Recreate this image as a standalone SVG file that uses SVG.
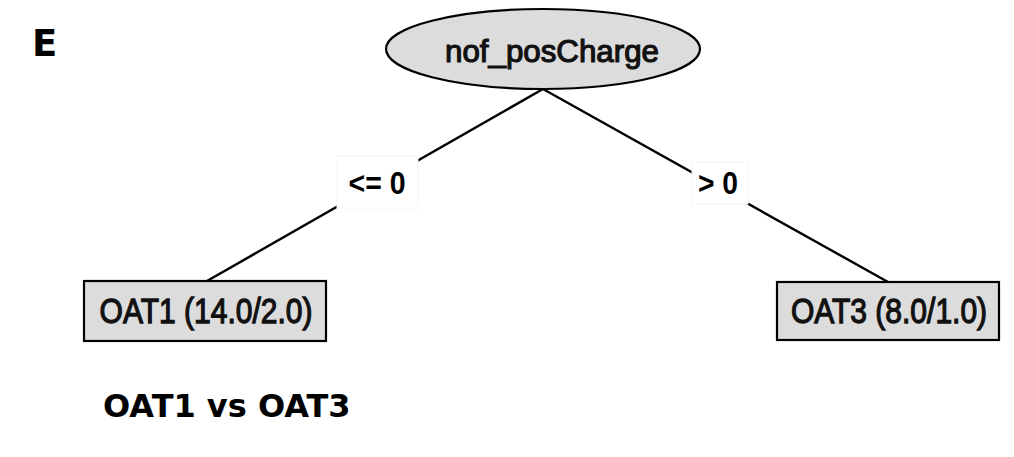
<svg xmlns="http://www.w3.org/2000/svg" width="1014" height="457" viewBox="0 0 1014 457">
  <style>
    .node { fill: #dcdcdc; stroke: #000; stroke-width: 2.2; }
    .edge { stroke: #000; stroke-width: 2.4; fill: none; }
    .lblbg { fill: #fff; stroke: #f4f4f4; stroke-width: 1; }
    .ntext { font-family: "Liberation Sans", Arial, sans-serif; fill: #111; stroke: #111; stroke-width: 1.2; text-anchor: middle; }
    .leaftext { font-family: "Liberation Sans", Arial, sans-serif; font-size: 30px; fill: #111; stroke: #111; stroke-width: 1.1; text-anchor: middle; }
    .etext { font-family: "Liberation Sans", Arial, sans-serif; font-weight: bold; fill: #000; text-anchor: middle; }
    .title { font-family: "DejaVu Sans", Verdana, sans-serif; font-weight: bold; fill: #000; }
  </style>
  <rect width="1014" height="457" fill="#fff"/>

  <text class="title" x="32" y="56" font-size="37">E</text>

  <g id="connectors">
    <path class="edge" d="M543,89 L207,281"/>
    <path class="edge" d="M543,89 L888,282"/>
    <g id="edge-le">
      <rect class="lblbg" x="337" y="156" width="81" height="52"/>
      <text class="etext" x="377" y="194" font-size="32" textLength="57" lengthAdjust="spacingAndGlyphs">&lt;= 0</text>
    </g>
    <g id="edge-gt">
      <rect class="lblbg" x="692" y="162" width="56" height="42"/>
      <text class="etext" x="718" y="194" font-size="32" textLength="40" lengthAdjust="spacingAndGlyphs">&gt; 0</text>
    </g>
  </g>

  <g id="root">
    <ellipse class="node" cx="543" cy="49" rx="157" ry="40"/>
    <text class="ntext" x="552" y="62" font-size="32" textLength="214" lengthAdjust="spacingAndGlyphs">nof_posCharge</text>
  </g>

  <g id="leaf-oat1">
    <rect class="node" x="84" y="281" width="242" height="60"/>
    <text class="leaftext" transform="translate(206,323) scale(1,1.167)">OAT1 (14.0/2.0)</text>
  </g>

  <g id="leaf-oat3">
    <rect class="node" x="777" y="282" width="222" height="58"/>
    <text class="leaftext" transform="translate(889,323) scale(1,1.167)">OAT3 (8.0/1.0)</text>
  </g>

  <text class="title" x="103" y="417" font-size="32">OAT1 vs OAT3</text>
</svg>
